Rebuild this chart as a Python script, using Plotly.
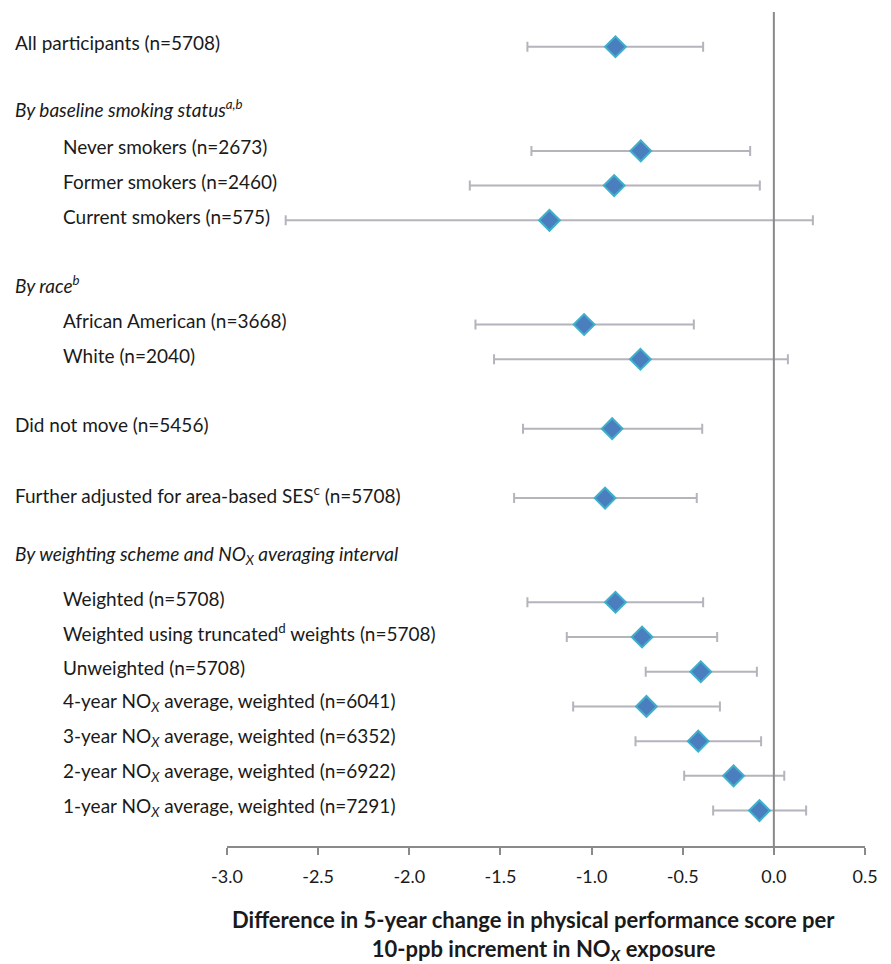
import plotly.graph_objects as go

# ---- data ----
row_labels = [
    "All participants (n=5708)",
    "<i>By baseline smoking status<sup>a,b</sup></i>",
    "Never smokers (n=2673)",
    "Former smokers (n=2460)",
    "Current smokers (n=575)",
    "<i>By race<sup>b</sup></i>",
    "African American (n=3668)",
    "White (n=2040)",
    "Did not move (n=5456)",
    "Further adjusted for area-based SES<sup>c</sup> (n=5708)",
    "<i>By weighting scheme and NO<sub>X</sub> averaging interval</i>",
    "Weighted (n=5708)",
    "Weighted using truncated<sup>d</sup> weights (n=5708)",
    "Unweighted (n=5708)",
    "4-year NO<sub><i>X</i></sub> average, weighted (n=6041)",
    "3-year NO<sub><i>X</i></sub> average, weighted (n=6352)",
    "2-year NO<sub><i>X</i></sub> average, weighted (n=6922)",
    "1-year NO<sub><i>X</i></sub> average, weighted (n=7291)",
]
row_pos = [0, 1.9, 3, 4, 5, 6.95, 8, 9, 11, 13, 14.75, 16, 17, 18, 19, 20, 21, 22]
row_indent = [0, 0, 1, 1, 1, 0, 1, 1, 0, 0, 0, 1, 1, 1, 1, 1, 1, 1]

est_pos = [0, 3, 4, 5, 8, 9, 11, 13, 16, 17, 18, 19, 20, 21, 22]
estimate = [-0.869, -0.730, -0.876, -1.231, -1.041, -0.732, -0.887, -0.926,
            -0.869, -0.723, -0.401, -0.699, -0.415, -0.221, -0.079]
ci_low = [-1.352, -1.330, -1.668, -2.678, -1.637, -1.535, -1.376, -1.425,
          -1.352, -1.136, -0.703, -1.101, -0.759, -0.492, -0.333]
ci_high = [-0.388, -0.130, -0.077, 0.214, -0.439, 0.077, -0.393, -0.423,
           -0.388, -0.311, -0.093, -0.296, -0.070, 0.057, 0.177]

tick_vals = [-3.0, -2.5, -2.0, -1.5, -1.0, -0.5, 0.0, 0.5]
tick_text = ["-3.0", "-2.5", "-2.0", "-1.5", "-1.0", "-0.5", "0.0", "0.5"]

x_title_1 = "Difference in 5-year change in physical performance score per"
x_title_2 = "10-ppb increment in NO<sub><i>X</i></sub> exposure"

FONT = "Lato"

fig = go.Figure()
fig.add_trace(go.Scatter(
    x=estimate, y=est_pos, mode="markers",
    marker=dict(symbol="diamond", size=16, color="#4A7EBF",
                line=dict(color="#3FB0CB", width=2)),
    error_x=dict(type="data", symmetric=False,
                 array=[h - e for h, e in zip(ci_high, estimate)],
                 arrayminus=[e - l for e, l in zip(estimate, ci_low)],
                 color="#B4B4BC", thickness=2, width=5),
    showlegend=False, hoverinfo="skip",
))

# zero reference line
fig.add_shape(type="line", xref="x", yref="paper", x0=0, x1=0, y0=0, y1=1,
              line=dict(color="#8A8A8A", width=2), layer="above")

L, R, T, B = 227, 26, 12, 118
W, H = 891, 964
pw = W - L - R
ph = H - T - B

for lab, pos, ind in zip(row_labels, row_pos, row_indent):
    xpx = 61 if ind else 13
    fig.add_annotation(text=lab, xref="paper", yref="y",
                       x=(xpx - L) / pw, y=pos, xanchor="left", yanchor="middle",
                       yshift=4, showarrow=False,
                       font=dict(family=FONT, size=19, color="#1a1a1a"))

pad = "&nbsp;" * 4
fig.add_annotation(text="<b>" + x_title_1 + pad + "<br>" + x_title_2 + "</b>",
                   xref="paper", yref="paper",
                   x=(543 - L) / pw, y=(846 - 935) / ph, xanchor="center", yanchor="middle",
                   showarrow=False, borderpad=0, align="center",
                   font=dict(family=FONT, size=22, color="#1a1a1a"))

fig.update_layout(
    width=W, height=H,
    margin=dict(l=L, r=R, t=T, b=B),
    paper_bgcolor="white", plot_bgcolor="white",
    xaxis=dict(range=[-3.0, 0.5], tickvals=tick_vals, ticktext=tick_text,
               ticks="outside", ticklen=7, tickwidth=2, tickcolor="#8A8A8A",
               showline=True, linecolor="#8A8A8A", linewidth=2,
               showgrid=False, zeroline=False, ticklabelstandoff=6,
               tickfont=dict(family=FONT, size=18, color="#1a1a1a")),
    yaxis=dict(range=[23.02, -1.0], visible=False, showgrid=False, zeroline=False),
)

fig.write_html("out.html", config={"displayModeBar": False},
               post_script="document.body.style.margin='0';")
